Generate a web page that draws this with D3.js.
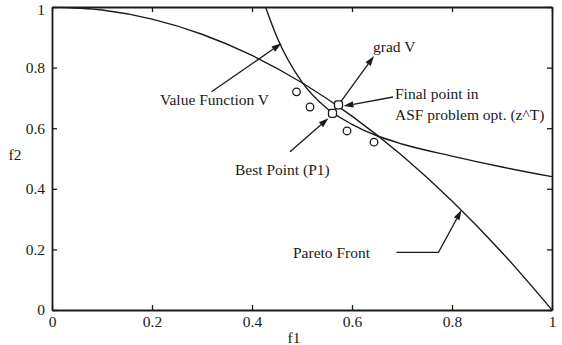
<!DOCTYPE html>
<html><head><meta charset="utf-8">
<script src="https://cdn.jsdelivr.net/npm/d3@7"></script>
<style>
html,body{margin:0;padding:0;background:#fff;}
svg text{font-family:"Liberation Serif","Times New Roman",serif;fill:#1a1a1a;}
</style></head>
<body><svg id="c" width="562" height="345"></svg>
<script>
// ---- data ----
const tickValues = [0, 0.2, 0.4, 0.6, 0.8, 1];
const tickLabels = ["0", "0.2", "0.4", "0.6", "0.8", "1"];
// Pareto front (f1, f2)
const paretoF1 = [0, 0.1, 0.2, 0.3, 0.4, 0.5, 0.6, 0.7, 0.8, 0.9, 1.0];
const paretoF2 = [1.0, 0.99, 0.96, 0.91, 0.84, 0.75, 0.64, 0.51, 0.36, 0.19, 0.0];
// Value function contour V
const valueF1 = [0.427, 0.45, 0.5, 0.55, 0.6, 0.65, 0.7, 0.8, 0.9, 1.0];
const valueF2 = [1.0, 0.90, 0.752, 0.665, 0.613, 0.575, 0.548, 0.508, 0.472, 0.44];
// population points
const popF1 = [0.489, 0.516, 0.59, 0.644];
const popF2 = [0.720, 0.670, 0.591, 0.554];
// special points
const finalPoint = [0.573, 0.677];
const bestPoint = [0.561, 0.649];
// annotations (data coords)
const arrowLabels = ["Value Function V", "grad V", "Final point in", "Best Point (P1)", "Pareto Front"];
const arrowPaths = [
  [[0.319, 0.720], [0.459, 0.880]],
  [[0.573, 0.677], [0.644, 0.838]],
  [[0.682, 0.703], [0.583, 0.673]],
  [[0.476, 0.522], [0.553, 0.633]],
  [[0.689, 0.190], [0.773, 0.190], [0.819, 0.330]]
];
const labelPos = [[0.216, 0.693], [0.642, 0.868], [0.686, 0.713], [0.366, 0.462], [0.482, 0.188]];
const extraLabel = {text: "ASF problem opt. (z^T)", pos: [0.686, 0.644]};

// ---- chart ----
const svg = d3.select("#c");
const x = d3.scaleLinear().domain([0, 1]).range([52, 552]);
const y = d3.scaleLinear().domain([0, 1]).range([310, 7]);
const fs = 15.5;
const ink = "#1a1a1a";

svg.append("defs").append("clipPath").attr("id", "plot")
  .append("rect").attr("x", 52).attr("y", 7).attr("width", 500).attr("height", 303);

const fmt = (d) => tickLabels[tickValues.indexOf(d)];

const gB = svg.append("g").attr("transform", `translate(0,${y(0)})`)
  .call(d3.axisBottom(x).tickValues(tickValues).tickFormat(fmt).tickSizeInner(-5).tickSizeOuter(0).tickPadding(6));
const gT = svg.append("g").attr("transform", `translate(0,${y(1)})`)
  .call(d3.axisTop(x).tickValues(tickValues).tickFormat("").tickSizeInner(-5).tickSizeOuter(0));
const gL = svg.append("g").attr("transform", `translate(${x(0)},0)`)
  .call(d3.axisLeft(y).tickValues(tickValues).tickFormat(fmt).tickSizeInner(-5).tickSizeOuter(0).tickPadding(7));
const gR = svg.append("g").attr("transform", `translate(${x(1)},0)`)
  .call(d3.axisRight(y).tickValues(tickValues).tickFormat("").tickSizeInner(-5).tickSizeOuter(0));
[gB, gT, gL, gR].forEach(g => {
  g.select(".domain").attr("stroke", ink).attr("stroke-width", 1.8);
  g.selectAll(".tick line").attr("stroke", ink).attr("stroke-width", 1.3);
  g.selectAll("text").attr("font-size", fs).attr("font-family", "Liberation Serif").attr("fill", ink);
});
// keep the top label inside the picture
gL.selectAll(".tick text").filter(d => d === 1).attr("dy", "0.5em");

// axis titles
svg.append("text").attr("x", 294).attr("y", 338).attr("dy", "0.35em").attr("text-anchor", "middle")
  .attr("font-size", fs).text("f1");
svg.append("text").attr("x", 15).attr("y", 155).attr("dy", "0.35em").attr("text-anchor", "middle")
  .attr("font-size", fs).text("f2");

const line = d3.line().x(d => x(d[0])).y(d => y(d[1])).curve(d3.curveMonotoneX);
const plot = svg.append("g").attr("clip-path", "url(#plot)");
plot.append("path").datum(paretoF1.map((f, i) => [f, paretoF2[i]]))
  .attr("d", line).attr("fill", "none").attr("stroke", ink).attr("stroke-width", 1.4);
plot.append("path").datum(valueF1.map((f, i) => [f, valueF2[i]]))
  .attr("d", line).attr("fill", "none").attr("stroke", ink).attr("stroke-width", 1.4);

// arrows
function arrow(pts) {
  const p = pts.map(d => [x(d[0]), y(d[1])]);
  const n = p.length;
  const a = p[n - 2], b = p[n - 1];
  const ang = Math.atan2(b[1] - a[1], b[0] - a[0]);
  const L = 10, W = 3.2;
  const bx = b[0] - L * Math.cos(ang), by = b[1] - L * Math.sin(ang);
  const shaft = p.slice(0, n - 1).concat([[bx, by]]);
  svg.append("path").attr("d", d3.line()(shaft)).attr("fill", "none").attr("stroke", ink).attr("stroke-width", 1.3);
  const px = -Math.sin(ang) * W, py = Math.cos(ang) * W;
  svg.append("path").attr("d", `M${b[0]},${b[1]}L${bx + px},${by + py}L${bx - px},${by - py}Z`).attr("fill", ink);
}
arrowPaths.forEach(arrow);

// points
svg.selectAll("circle.pop").data(popF1.map((f, i) => [f, popF2[i]])).enter().append("circle")
  .attr("class", "pop").attr("cx", d => x(d[0])).attr("cy", d => y(d[1])).attr("r", 3.8)
  .attr("fill", "#fff").attr("stroke", ink).attr("stroke-width", 1.3);
svg.selectAll("rect.sp").data([finalPoint, bestPoint]).enter().append("rect")
  .attr("class", "sp").attr("x", d => x(d[0]) - 4).attr("y", d => y(d[1]) - 4)
  .attr("width", 8).attr("height", 8).attr("rx", 2.5)
  .attr("fill", "#fff").attr("stroke", ink).attr("stroke-width", 1.3);

// labels
arrowLabels.forEach((t, i) => {
  svg.append("text").attr("x", x(labelPos[i][0])).attr("y", y(labelPos[i][1])).attr("dy", "0.35em")
    .attr("font-size", fs).text(t);
});
svg.append("text").attr("x", x(extraLabel.pos[0])).attr("y", y(extraLabel.pos[1])).attr("dy", "0.35em")
  .attr("font-size", fs).text(extraLabel.text);
</script></body></html>
